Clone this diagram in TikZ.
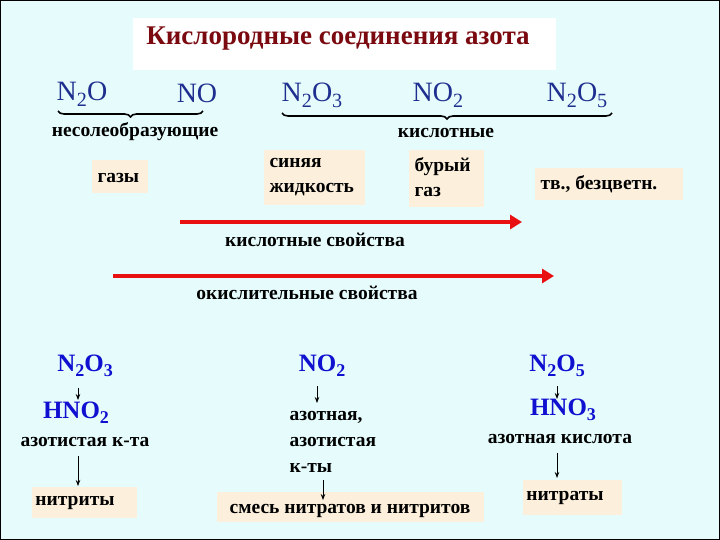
\documentclass[tikz,border=0pt]{standalone}
\usepackage{fontspec}
\setmainfont{Liberation Serif}
\usetikzlibrary{decorations.pathreplacing,arrows.meta}
\definecolor{bg}{HTML}{E6FCFC}
\definecolor{beige}{HTML}{FCF0DC}
\definecolor{navy}{HTML}{1F2F8F}
\definecolor{blu}{HTML}{1010D0}
\definecolor{dred}{HTML}{7A0A10}
\definecolor{rarrow}{HTML}{E81010}
\newcommand\sbs[1]{\raisebox{-0.45ex}{\scalebox{0.72}{#1}}}
\begin{document}
\begin{tikzpicture}[x=1pt,y=-1pt,
  lab/.style={font=\bfseries\fontsize{19.5}{22}\selectfont},
  formula/.style={text=navy,font=\fontsize{28}{30}\selectfont},
  bformula/.style={text=blu,font=\bfseries\fontsize{25}{27}\selectfont},
  redarr/.style={draw=rarrow,line width=3.5pt,-{Triangle[length=12pt,width=14pt]}},
  blk/.style={draw=black,thick,-{Stealth[length=6pt]}},
  brace/.style={decorate,decoration={brace,mirror,amplitude=6pt},line width=1.6pt}]
\useasboundingbox (0,0) rectangle (720,540);
\fill[bg] (0,0) rectangle (720,540);
\draw[line width=1pt] (0.5,0.5) rectangle (719.5,539.5);
\fill[white] (133,18) rectangle (556,70);
\node[text=dred,font=\bfseries\fontsize{27}{30}\selectfont] (title) at (338,39) {Кислородные соединения азота};
% top formulas
\node[formula] (a1) at (82,94) {N\sbs{2}O};
\node[formula] (a2) at (197,93) {NO};
\node[formula] (a3) at (312,95) {N\sbs{2}O\sbs{3}};
\node[formula] (a4) at (438,95) {NO\sbs{2}};
\node[formula] (a5) at (577,95) {N\sbs{2}O\sbs{5}};
\coordinate (b1s) at (58,111); \coordinate (b1e) at (203,111);
\coordinate (b2s) at (282,113); \coordinate (b2e) at (612,113);
\draw[brace] (b1s) -- (b1e);
\draw[brace] (b2s) -- (b2e);
\node[lab] (l1) at (135,132) {несолеобразующие};
\node[lab] (l2) at (446,133) {кислотные};
% property boxes
\fill[beige] (92,160) rectangle (148,193);
\node[lab,anchor=west] (g1) at (94,178) {газы};
\fill[beige] (264,150) rectangle (365,205);
\node[lab,anchor=west,align=left] (g2) at (266,177) {синяя\\[3pt]жидкость};
\fill[beige] (409,150) rectangle (484,207);
\node[lab,anchor=west,align=left] (g3) at (411,177) {бурый\\[3pt]газ};
\fill[beige] (535,168) rectangle (683,200);
\node[lab,anchor=west] (g4) at (537,184) {тв., безцветн.};
% red arrows
\coordinate (r1s) at (180,222); \coordinate (r1e) at (522,222);
\draw[redarr] (r1s) -- (r1e);
\node[lab] (rl1) at (315,240) {кислотные свойства};
\coordinate (r2s) at (113,276); \coordinate (r2e) at (554,276);
\draw[redarr] (r2s) -- (r2e);
\node[lab] (rl2) at (307,293) {окислительные свойства};
% bottom left
\node[bformula] (c1) at (85,366) {N\sbs{2}O\sbs{3}};
\node[bformula] (h1) at (76,413) {HNO\sbs{2}};
\node[lab] (t1) at (85,442) {азотистая к-та};
\fill[beige] (32,487) rectangle (137,518);
\node[lab] (n1) at (75,503) {нитриты};
\draw[blk] (78,388) -- (78,400);
\draw[blk] (78,456) -- (78,486);
% bottom middle
\node[bformula] (c2) at (322,366) {NO\sbs{2}};
\node[lab,anchor=north west,align=left] (t2) at (286,408) {азотная,\\[4pt]азотистая\\[4pt]к-ты};
\fill[beige] (217,492) rectangle (484,522);
\node[lab] (n2) at (350,511) {смесь нитратов и нитритов};
\draw[blk] (317,386) -- (317,403);
\draw[blk] (323,480) -- (323,500);
% bottom right
\node[bformula] (c3) at (557,366) {N\sbs{2}O\sbs{5}};
\node[bformula] (h3) at (563,410) {HNO\sbs{3}};
\node[lab] (t3) at (560,439) {азотная кислота};
\fill[beige] (523,480) rectangle (622,515);
\node[lab] (n3) at (565,498) {нитраты};
\draw[blk] (557,386) -- (557,399);
\draw[blk] (557,453) -- (557,478);
\end{tikzpicture}
\end{document}
